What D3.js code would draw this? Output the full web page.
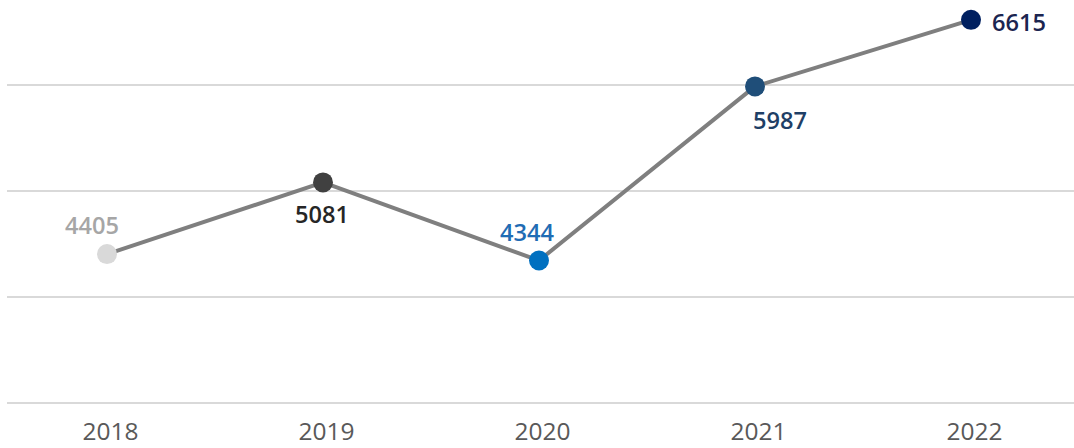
<!DOCTYPE html>
<html>
<head>
<meta charset="utf-8">
<script src="https://cdn.jsdelivr.net/npm/d3@7"></script>
<style>
  html, body { margin: 0; padding: 0; background: #ffffff; }
  svg { display: block; }
</style>
</head>
<body>
<svg id="chart" width="1074" height="448"></svg>
<script>
// ---- data ----
const years = ["2018", "2019", "2020", "2021", "2022"];
const values = [4405, 5081, 4344, 5987, 6615];
const gridTicks = [3000, 4000, 5000, 6000];

// ---- styles ----
const dotColors = ["#d9d9d9", "#404040", "#0070c0", "#1f4e79", "#002060"];
const labelColors = ["#a6a6a6", "#262626", "#1f6cb4", "#1f3f66", "#1b2550"];
// label placement relative to its point: [dx, dy, anchor]
const labelPlace = [
  [-15, -20, "middle"],
  [-1, 41, "middle"],
  [-12, -20, "middle"],
  [25, 43, "middle"],
  [21, 11, "start"]
];

const svg = d3.select("#chart");
const W = 1074, H = 448;

const x = d3.scalePoint().domain(years).range([107, 971]);
const y = d3.scaleLinear().domain([3000, 6000]).range([403, 85]);

// gridlines
svg.append("g")
  .selectAll("line")
  .data(gridTicks)
  .join("line")
  .attr("x1", 7).attr("x2", W)
  .attr("y1", d => y(d)).attr("y2", d => y(d))
  .attr("stroke", "#d9d9d9")
  .attr("stroke-width", 2);

// x axis labels
const xAxis = d3.axisBottom(x).tickSize(0).tickPadding(0);
const gx = svg.append("g")
  .attr("transform", `translate(3, ${y(3000)})`)
  .call(xAxis);
gx.select(".domain").remove();
gx.selectAll("text")
  .attr("y", 37)
  .attr("dy", 0)
  .attr("font-family", "'Open Sans', 'Liberation Sans', sans-serif")
  .attr("font-size", 24)
  .attr("fill", "#595959")
  .attr("textLength", 56)
  .attr("lengthAdjust", "spacingAndGlyphs");

const pts = years.map((yr, i) => ({ yr, v: values[i], i }));

// line
svg.append("path")
  .datum(pts)
  .attr("fill", "none")
  .attr("stroke", "#7f7f7f")
  .attr("stroke-width", 4)
  .attr("stroke-linejoin", "round")
  .attr("d", d3.line().x(d => x(d.yr)).y(d => y(d.v)));

// dots
svg.append("g")
  .selectAll("circle")
  .data(pts)
  .join("circle")
  .attr("cx", d => x(d.yr))
  .attr("cy", d => y(d.v))
  .attr("r", 10)
  .attr("fill", d => dotColors[d.i]);

// data labels
svg.append("g")
  .selectAll("text")
  .data(pts)
  .join("text")
  .attr("x", d => x(d.yr) + labelPlace[d.i][0])
  .attr("y", d => y(d.v) + labelPlace[d.i][1])
  .attr("text-anchor", d => labelPlace[d.i][2])
  .attr("font-family", "'Open Sans', 'Liberation Sans', sans-serif")
  .attr("font-weight", 600)
  .attr("font-size", 24)
  .attr("fill", d => labelColors[d.i])
  .attr("textLength", 54)
  .attr("lengthAdjust", "spacingAndGlyphs")
  .text(d => d.v);
</script>
</body>
</html>
